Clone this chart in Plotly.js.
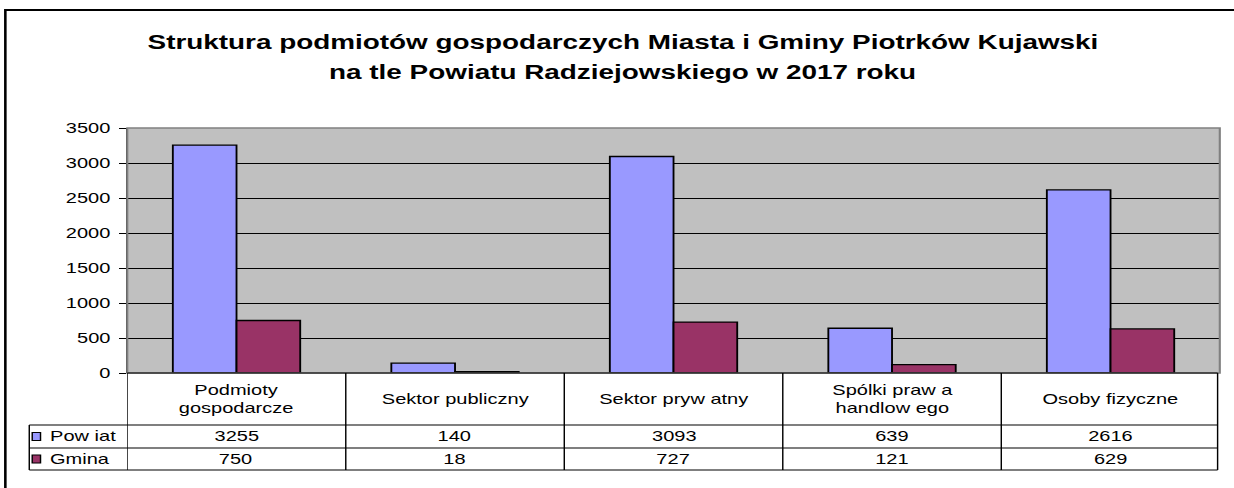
<!DOCTYPE html>
<html>
<head>
<meta charset="utf-8">
<script src="https://cdn.plot.ly/plotly-3.0.1.min.js"></script>
<style>
html, body { margin: 0; padding: 0; overflow: hidden; background: #ffffff; width: 1234px; height: 488px; }
#chart { width: 863px; height: 488px; transform: scaleX(1.43); transform-origin: 0 0; }
</style>
</head>
<body>
<div id="chart"></div>
<script>
// ---- data ----
const categories = ['Podmioty<br>gospodarcze', 'Sektor publiczny', 'Sektor pryw atny', 'Spólki praw a<br>handlow ego', 'Osoby fizyczne'];
const powiat = [3255, 140, 3093, 639, 2616];
const gmina = [750, 18, 727, 121, 629];
const seriesNames = ['Pow iat', 'Gmina'];
const seriesColors = ['#9999FF', '#993366'];
const yTicks = [0, 500, 1000, 1500, 2000, 2500, 3000, 3500];
const titleLines = ['Struktura podmiotów gospodarczych Miasta i Gminy Piotrków Kujawski',
                    'na tle Powiatu Radziejowskiego w 2017 roku'];

// ---- layout helpers (paper fractions) ----
const FONT = 'Liberation Sans, Arial, sans-serif';
const rowTop = 0;          // y = 373px
const rowCat = -0.2122;    // y = 425px
const rowPow = -0.3061;    // y = 448px
const rowGm = -0.3959;     // y = 470px
const legLeft = -0.0897;   // x = 29px

const traces = [
  { type: 'bar', name: seriesNames[0], x: categories, y: powiat,
    marker: { color: seriesColors[0], line: { color: '#000000', width: 1.3 } }, hoverinfo: 'x+y' },
  { type: 'bar', name: seriesNames[1], x: categories, y: gmina,
    marker: { color: seriesColors[1], line: { color: '#000000', width: 1.3 } }, hoverinfo: 'x+y' }
];

const shapes = [];
const annotations = [];
const L = (x0, y0, x1, y1, xref, w, c) => shapes.push({ type: 'line', xref: xref || 'paper', yref: 'paper',
  x0, y0, x1, y1, line: { color: c || '#000000', width: w || 1 } });

// outer frame
shapes.push({ type: 'rect', xref: 'paper', yref: 'paper', x0: -0.1116, y0: -0.7, x1: 1.06, y1: 1.4816,
  line: { color: '#000000', width: 1.8 }, layer: 'below' });
// plot area border
shapes.push({ type: 'rect', xref: 'paper', yref: 'paper', x0: 0, y0: 0, x1: 1, y1: 1,
  line: { color: '#808080', width: 1.5 } });

// table horizontal lines
L(0, rowTop, 0.998, rowTop);
L(legLeft, rowCat, 0.998, rowCat);
L(legLeft, rowPow, 0.998, rowPow);
L(legLeft, rowGm, 0.998, rowGm);
// table vertical lines
L(legLeft, rowCat, legLeft, rowGm);
for (let k = 0; k <= categories.length; k++) {
  const xv = k - 0.5 - (k === categories.length ? 0.01 : 0);
  shapes.push({ type: 'line', xref: 'x', yref: 'paper', x0: xv, x1: xv, y0: rowTop, y1: rowGm,
    line: { color: '#000000', width: 1 } });
}

// category labels & values
categories.forEach((c, i) => {
  annotations.push({ xref: 'x', yref: 'paper', x: c, y: (rowTop + rowCat) / 2, text: c, showarrow: false,
    xanchor: 'center', yanchor: 'middle', font: { family: FONT, size: 14, color: '#000' } });
  annotations.push({ xref: 'x', yref: 'paper', x: c, y: (rowCat + rowPow) / 2, text: String(powiat[i]), showarrow: false,
    xanchor: 'center', yanchor: 'middle', font: { family: FONT, size: 14, color: '#000' } });
  annotations.push({ xref: 'x', yref: 'paper', x: c, y: (rowPow + rowGm) / 2, text: String(gmina[i]), showarrow: false,
    xanchor: 'center', yanchor: 'middle', font: { family: FONT, size: 14, color: '#000' } });
});

// legend keys in table
const rowsY = [[rowCat, rowPow], [rowPow, rowGm]];
seriesNames.forEach((n, i) => {
  const mid = (rowsY[i][0] + rowsY[i][1]) / 2;
  shapes.push({ type: 'rect', xref: 'paper', yref: 'paper', x0: -0.0870, x1: -0.0794,
    y0: mid - 0.0165, y1: mid + 0.0165, fillcolor: seriesColors[i], line: { color: '#000000', width: 1 } });
  annotations.push({ xref: 'paper', yref: 'paper', x: -0.0730, y: mid, text: n, showarrow: false,
    xanchor: 'left', yanchor: 'middle', font: { family: FONT, size: 14, color: '#000' } });
});

// title
annotations.push({ xref: 'paper', yref: 'paper', x: 0.4529, y: 1.351, text: '<b>' + titleLines[0] + '</b>',
  showarrow: false, xanchor: 'center', yanchor: 'middle', font: { family: FONT, size: 19.5, color: '#000' } });
annotations.push({ xref: 'paper', yref: 'paper', x: 0.4529, y: 1.2286, text: '<b>' + titleLines[1] + '</b>',
  showarrow: false, xanchor: 'center', yanchor: 'middle', font: { family: FONT, size: 19.5, color: '#000' } });

const layout = {
  width: 863, height: 488,
  margin: { l: 89, r: 10, t: 128, b: 115, pad: 0 },
  paper_bgcolor: '#ffffff',
  plot_bgcolor: '#C0C0C0',
  showlegend: false,
  barmode: 'group',
  bargap: 0.417,
  bargroupgap: 0,
  font: { family: FONT, size: 14, color: '#000' },
  xaxis: { type: 'category', range: [-0.5, 4.5], showticklabels: false, ticks: '', showgrid: false,
    zeroline: false, showline: false, fixedrange: true },
  yaxis: { range: [0, 3500], tickvals: yTicks, ticktext: yTicks.map(String), showgrid: true,
    gridcolor: '#000000', gridwidth: 1, zeroline: false, showline: true, linecolor: '#000000', linewidth: 1,
    ticks: 'outside', ticklen: 5, tickcolor: '#000000', tickwidth: 1, ticklabelstandoff: 3,
    tickfont: { family: FONT, size: 14, color: '#000' }, fixedrange: true },
  shapes, annotations
};

Plotly.newPlot('chart', traces, layout, { displayModeBar: false, staticPlot: true });
</script>
</body>
</html>
